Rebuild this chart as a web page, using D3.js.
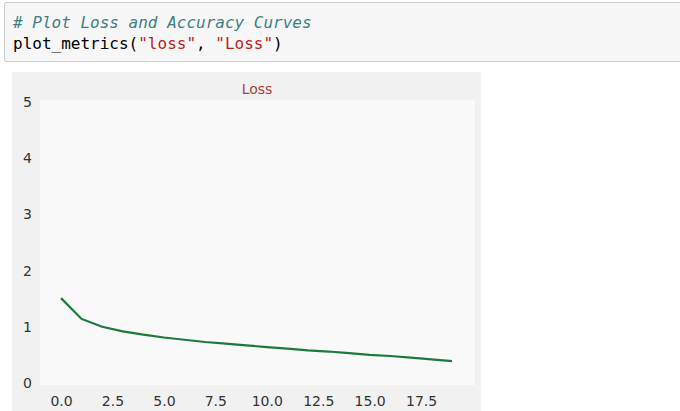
<!DOCTYPE html>
<html><head><meta charset="utf-8">
<script src="https://cdn.jsdelivr.net/npm/d3@7"></script>
<style>
body{margin:0;background:#fff;width:680px;height:411px;overflow:hidden;font-family:"DejaVu Sans",sans-serif}
.cell{position:absolute;left:4px;top:2px;width:690px;height:60px;background:#f7f7f7;border:1px solid #cfcfcf;border-radius:2px;
font-family:"DejaVu Sans Mono",monospace;font-size:16px;line-height:21px;padding:9px 8px;box-sizing:border-box}
.c{color:#408080;font-style:italic}.s{color:#ba2121}
svg{position:absolute;left:0;top:0}
</style></head><body>
<div class="cell"><span class="c"># Plot Loss and Accuracy Curves</span><br>plot_metrics(<span class="s">"loss"</span>, <span class="s">"Loss"</span>)</div>
<svg width="680" height="411"></svg>
<script>
const epochs = d3.range(20);
const loss = [1.51,1.14,1.00,0.92,0.86,0.81,0.77,0.73,0.70,0.67,0.64,0.61,0.58,0.56,0.53,0.50,0.48,0.45,0.42,0.39];
const yTicks = [0,1,2,3,4,5];
const xTicks = [0,2.5,5,7.5,10,12.5,15,17.5];

const svg = d3.select("svg");
svg.append("rect").attr("x",12).attr("y",72).attr("width",469).attr("height",345).attr("fill","#f1f1f1");
const x = d3.scaleLinear().domain([0,19]).range([61,452]);
const y = d3.scaleLinear().domain([0,5]).range([383,102]);
svg.append("rect").attr("x",40).attr("y",100).attr("width",435).attr("height",285).attr("fill","#f9f9f9");

svg.append("text").attr("x",257).attr("y",94).attr("text-anchor","middle")
  .attr("fill","#b03a3a").attr("font-size",14).text("Loss");

const yAxis = svg.append("g").attr("transform","translate(38,0)")
  .call(d3.axisLeft(y).tickValues(yTicks).tickSize(0).tickPadding(6).tickFormat(d3.format("d")));
const xAxis = svg.append("g").attr("transform","translate(0,390)")
  .call(d3.axisBottom(x).tickValues(xTicks).tickSize(0).tickPadding(6).tickFormat(d3.format(".1f")));
[yAxis,xAxis].forEach(a=>{
  a.select(".domain").remove();
  a.selectAll("text").attr("font-size",14).attr("fill","#333").attr("font-family","DejaVu Sans");
});

svg.append("path").datum(loss)
  .attr("fill","none").attr("stroke","#1e7a3c").attr("stroke-width",2.2)
  .attr("d", d3.line().x((d,i)=>x(epochs[i])).y(d=>y(d)));
</script></body></html>
